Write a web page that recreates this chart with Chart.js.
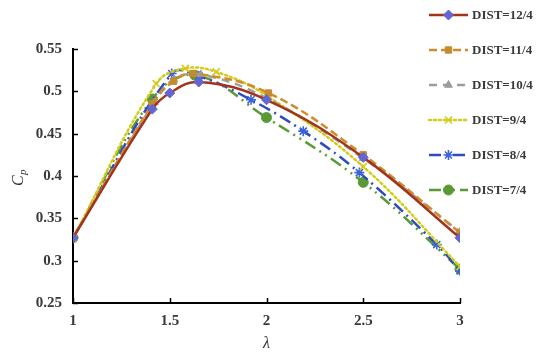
<!DOCTYPE html>
<html>
<head>
<meta charset="utf-8">
<script src="https://cdn.jsdelivr.net/npm/chart.js@4.4.0/dist/chart.umd.min.js"></script>
<style>
html,body{margin:0;padding:0;background:#fff;}
#wrap{width:550px;height:357px;position:relative;}
</style>
</head>
<body>
<div id="wrap"><canvas id="c" width="550" height="357"></canvas></div>
<script>
// ---- data ----
const seriesNames = ['DIST=12/4','DIST=11/4','DIST=10/4','DIST=9/4','DIST=8/4','DIST=7/4'];

const lambda12 = [1, 1.41, 1.5, 1.65, 2.0, 2.5, 3.0];
const cp12     = [0.327, 0.479, 0.498, 0.511, 0.490, 0.422, 0.327];

const lambda11 = [1, 1.41, 1.52, 1.62, 2.01, 2.5, 3.0];
const cp11     = [0.327, 0.485, 0.512, 0.521, 0.498, 0.425, 0.333];

const lambda10 = [1, 1.42, 1.52, 1.66, 2.0, 2.5, 3.0];
const cp10     = [0.327, 0.487, 0.514, 0.520, 0.492, 0.421, 0.334];

const lambda9  = [1, 1.43, 1.58, 1.74, 2.0, 2.5, 3.0];
const cp9      = [0.327, 0.509, 0.527, 0.523, 0.495, 0.411, 0.293];

const lambda8  = [1, 1.51, 1.65, 1.92, 2.19, 2.48, 2.88, 3.0];
const cp8      = [0.327, 0.521, 0.518, 0.490, 0.453, 0.404, 0.319, 0.288];

const lambda7  = [1, 1.41, 1.63, 2.0, 2.5, 3.0];
const cp7      = [0.327, 0.491, 0.519, 0.469, 0.3925, 0.290];

const xTickLabels = ['1','1.5','2','2.5','3'];
const yTickLabels = ['0.25','0.3','0.35','0.4','0.45','0.5','0.55'];

// ---- styles ----
const styles = [
  {line:'#a3341c', point:'#6464d2', pstyle:'rectRot', r:5, dash:[]},
  {line:'#d08c2c', point:'#c48a2e', pstyle:'rect', r:4.5, dash:[8,4]},
  {line:'#9c9c9c', point:'#9c9c9c', pstyle:'triangle', r:4.5, dash:[8,6]},
  {line:'#d4cc1c', point:'#d4cc1c', pstyle:'crossRot', r:5, dash:[2,3]},
  {line:'#2c4cc0', point:'#3c64d8', pstyle:'star', r:5, dash:[12,5,2,5]},
  {line:'#5a9a36', point:'#5a9a36', pstyle:'circle', r:5, dash:[12,5,2,5,2,5]}
];
const xs = [lambda12, lambda11, lambda10, lambda9, lambda8, lambda7];
const ys = [cp12, cp11, cp10, cp9, cp8, cp7];

const datasets = seriesNames.map((n,i)=>({
  label:n,
  data: xs[i].map((x,j)=>({x:x, y:ys[i][j]})),
  showLine:true,
  borderColor:styles[i].line,
  borderWidth:2.5,
  borderDash:styles[i].dash,
  borderCapStyle: i===3 ? 'round':'butt',
  tension:0.4,
  pointStyle:styles[i].pstyle,
  pointRadius:styles[i].r,
  pointBackgroundColor:styles[i].point,
  pointBorderColor:styles[i].point,
  pointBorderWidth: (i===3||i===4)?1.6:1,
  fill:false
}));

const fontFam = '"Liberation Serif","Times New Roman",serif';

const decor = {
  id:'decor',
  afterDraw(chart){
    const ctx = chart.ctx;
    const xS = chart.scales.x, yS = chart.scales.y;
    ctx.save();
    // inner ticks
    ctx.strokeStyle = '#000'; ctx.lineWidth = 1.5;
    yTickLabels.forEach(t=>{
      const py = Math.round(yS.getPixelForValue(parseFloat(t)))+0.5;
      ctx.beginPath(); ctx.moveTo(xS.left, py); ctx.lineTo(xS.left+5, py); ctx.stroke();
    });
    xTickLabels.forEach(t=>{
      const px = Math.round(xS.getPixelForValue(parseFloat(t)))+0.5;
      ctx.beginPath(); ctx.moveTo(px, yS.bottom); ctx.lineTo(px, yS.bottom-5); ctx.stroke();
    });
    // axis titles
    ctx.fillStyle = '#333';
    ctx.font = 'italic 16px '+fontFam;
    ctx.textAlign='center'; ctx.textBaseline='middle';
    ctx.fillText('λ', (xS.left+xS.right)/2, 344);
    ctx.save();
    ctx.translate(19, 178);
    ctx.rotate(-Math.PI/2);
    ctx.font = 'italic 16px '+fontFam;
    ctx.textAlign='left';
    ctx.fillText('C', -8, 0);
    ctx.font = 'italic 11px '+fontFam;
    ctx.fillText('p', 3, 4);
    ctx.restore();
    // legend
    seriesNames.forEach((n,i)=>{
      const y = 15 + 35*i;
      const s = styles[i];
      ctx.save();
      ctx.strokeStyle = s.line; ctx.lineWidth = 2.5;
      ctx.setLineDash(s.dash);
      ctx.lineCap = i===3?'round':'butt';
      ctx.beginPath(); ctx.moveTo(429,y); ctx.lineTo(468,y); ctx.stroke();
      ctx.restore();
      ctx.save();
      ctx.fillStyle = s.point; ctx.strokeStyle = s.point;
      ctx.lineWidth = (i===3||i===4)?1.6:1;
      Chart.helpers.drawPoint(ctx, {pointStyle:s.pstyle, radius:s.r, rotation:0, borderWidth:ctx.lineWidth}, 448.5, y);
      ctx.restore();
      ctx.fillStyle = '#3a3a3a';
      ctx.font = 'bold 13px '+fontFam;
      ctx.textAlign='left'; ctx.textBaseline='middle';
      ctx.fillText(n, 472, y+1);
    });
    ctx.restore();
  }
};

new Chart(document.getElementById('c'), {
  type:'scatter',
  data:{datasets:datasets},
  options:{
    responsive:false,
    animation:false,
    devicePixelRatio:1,
    layout:{padding:{left:0,right:90,top:49,bottom:0}},
    plugins:{legend:{display:false}, tooltip:{enabled:false}},
    scales:{
      x:{
        type:'linear', min:1, max:3,
        afterFit(s){ s.height = 54; },
        afterBuildTicks(s){ s.ticks = xTickLabels.map(v=>({value:parseFloat(v)})); },
        grid:{display:false, drawTicks:false},
        border:{display:true, color:'#000', width:2},
        ticks:{padding:9, color:'#3a3a3a', font:{family:fontFam, size:15, weight:'bold'},
          callback:(v)=>{const k = xTickLabels.find(t=>Math.abs(parseFloat(t)-v)<1e-6); return k===undefined?'':k;}}
      },
      y:{
        type:'linear', min:0.25, max:0.55,
        afterFit(s){ s.width = 73; },
        afterBuildTicks(s){ s.ticks = yTickLabels.map(v=>({value:parseFloat(v)})); },
        grid:{display:false, drawTicks:false},
        border:{display:true, color:'#000', width:2},
        ticks:{padding:11, color:'#3a3a3a', font:{family:fontFam, size:15, weight:'bold'},
          callback:(v)=>{const k = yTickLabels.find(t=>Math.abs(parseFloat(t)-v)<1e-6); return k===undefined?'':k;}}
      }
    }
  },
  plugins:[decor]
});
</script>
</body>
</html>
